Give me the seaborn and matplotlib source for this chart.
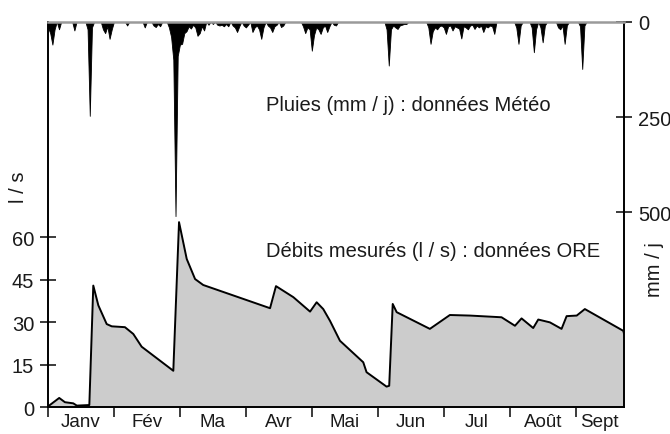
import numpy as np
import pandas as pd
import matplotlib
matplotlib.use("Agg")
import matplotlib.pyplot as plt
import seaborn as sns

# Month labels (30-day slots on the time axis)
mois = ["Janv", "Fév", "Ma", "Avr", "Mai", "Jun", "Jul", "Août", "Sept"]
debut_mois = [0, 30, 60, 90, 120, 150, 180, 210, 240]
fin_periode = 262

# Measured discharge (l/s)
debit_jour = [0, 5.1, 7.7, 11.5, 13.1, 18.8, 20.6, 22.9, 26.7, 29.0, 35.0, 38.8,
              42.6, 57.0, 59.6, 63.1, 66.9, 70.6, 101.0, 103.7, 111.6, 119.2,
              122.2, 125.2, 128.3, 132.8, 143.4, 144.9, 154.0, 155.2, 156.8,
              158.6, 173.7, 182.8, 191.9, 206.3, 212.4, 215.4, 220.7, 223.0,
              228.3, 233.6, 235.9, 240.5, 244.2, 261.7, 262.0]
debit_ls = [0.3, 3.3, 1.8, 1.4, 0.6, 0.8, 43.0, 36.0, 29.4, 28.6, 28.3, 25.9,
            21.4, 12.9, 65.4, 52.4, 45.3, 43.2, 35.0, 42.8, 38.9, 33.8,
            37.1, 34.7, 30.5, 23.5, 15.9, 12.4, 7.3, 7.6, 36.5,
            33.6, 27.7, 32.6, 32.4, 31.8, 28.8, 31.4, 28.0, 31.0,
            30.0, 27.7, 32.2, 32.4, 34.7, 27.0, 26.0]

# Daily rainfall (mm/j), rainy days only
pluie_jour = [0, 1, 2, 3, 5, 12, 18, 19, 20, 25, 26, 27, 28, 29, 36, 44, 48, 49,
              50, 51, 55, 56, 57, 58, 59, 60, 61, 62, 63, 64, 65, 66, 67, 68,
              69, 70, 71, 73, 75, 77, 78, 79, 80, 81, 82, 84, 85, 86, 87, 89,
              90, 91, 93, 94, 95, 96, 97, 98, 100, 101, 102, 103, 104, 106, 107,
              116, 117, 118, 119, 120, 121, 122, 123, 124, 125, 126, 127, 128,
              130, 131, 154, 155, 156, 157, 158, 159, 160, 161, 162, 163,
              173, 174, 175, 176, 177, 178, 179, 180, 181, 182, 183, 184, 185,
              186, 187, 188, 189, 190, 191, 192, 193, 194, 195, 196, 197, 198,
              199, 200, 201, 202, 203, 213, 214, 215, 220, 221, 222, 224, 225,
              226, 232, 233, 234, 235, 236, 242, 243, 244]
pluie_mm = [15, 30, 60, 20, 20, 23, 20, 247, 15, 20, 30, 12, 45, 20, 10, 15, 10,
            14, 6, 12, 15, 40, 100, 510, 90, 60, 58, 30, 25, 12, 18, 8, 15, 37,
            30, 12, 23, 8, 6, 8, 10, 8, 12, 6, 12, 10, 15, 27, 12, 10,
            15, 8, 27, 15, 10, 20, 45, 15, 10, 15, 27, 12, 8, 14, 10,
            12, 30, 15, 20, 76, 35, 15, 20, 32, 15, 10, 27, 12,
            8, 10, 20, 115, 20, 10, 15, 19, 10, 8, 6, 6,
            15, 58, 25, 15, 20, 12, 10, 15, 32, 12, 10, 23, 12,
            15, 18, 44, 12, 15, 20, 10, 8, 19, 10, 15, 10, 27,
            12, 15, 10, 12, 32, 15, 58, 10, 15, 80, 20, 15, 54,
            10, 15, 20, 10, 58, 10, 12, 124, 10]

df_debit = pd.DataFrame({"jour": debit_jour, "debit": debit_ls})
jours = np.arange(0, fin_periode + 1)
pluie = pd.Series(0.0, index=jours)
pluie.loc[pluie_jour] = pluie_mm
df_pluie = pd.DataFrame({"jour": jours, "pluie": pluie.values})

sns.set_theme(style="white")
plt.rcParams["font.family"] = ["Liberation Sans", "DejaVu Sans"]
plt.rcParams["text.color"] = "#1a1a1a"
plt.rcParams["xtick.color"] = "#1a1a1a"
plt.rcParams["ytick.color"] = "#1a1a1a"

fig = plt.figure(figsize=(6.7, 4.35), dpi=100)
ax = fig.add_axes([48 / 670, 1 - 408.3 / 435, 576 / 670, 385.6 / 435])
ax2 = ax.twinx()

# Discharge: grey area with black outline
ax.fill_between(df_debit["jour"], df_debit["debit"], 0, color="#cccccc", lw=0)
sns.lineplot(data=df_debit, x="jour", y="debit", ax=ax, color="black", lw=1.4)
ax.set_xlim(0, fin_periode)
ax.set_ylim(0, 136.2)

# Rainfall hanging from the top, inverted scale
ax2.fill_between(df_pluie["jour"], df_pluie["pluie"], 0, color="black", lw=0.6,
                 edgecolor="black")
ax2.set_ylim(1011.5, 0)

ax.set_xlabel("")
ax.set_ylabel("")
ax2.set_ylabel("")

# Axis ticks
ax.set_yticks([0, 15, 30, 45, 60])
ax.set_yticklabels(["0", "15", "30", "45", "60"])
ax.tick_params(axis="y", which="major", direction="inout", length=12, width=1.2,
               pad=4, labelsize=14.5, left=True)
ax.set_xticks(debut_mois)
ax.set_xticklabels([])
ax.set_xticks([d + 15 for d in debut_mois[:-1]] + [(240 + fin_periode) / 2],
              minor=True)
ax.set_xticklabels(mois, minor=True)
ax.tick_params(axis="x", which="major", direction="out", length=7.5, width=1.2,
               bottom=True)
ax.tick_params(axis="x", which="minor", length=0, pad=4, labelsize=13.5)

ax2.set_yticks([0, 250, 500])
ax2.set_yticklabels(["0", "250", "500"])
ax2.tick_params(axis="y", direction="inout", length=12, width=1.2, pad=4,
                labelsize=14.5, right=True)

for s in ["left", "bottom"]:
    ax.spines[s].set_color("black")
    ax.spines[s].set_linewidth(1.4)
ax.spines["right"].set_visible(False)
ax.spines["top"].set_visible(False)
for s in ["left", "bottom"]:
    ax2.spines[s].set_visible(False)
ax2.spines["right"].set_color("black")
ax2.spines["right"].set_linewidth(1.4)
ax2.spines["top"].set_color("#9a9a9a")
ax2.spines["top"].set_linewidth(1.8)

# Series captions
ax2.text(99, 218, "Pluies (mm / j) : données Météo", ha="left", va="center",
         fontsize=14.5)
ax.text(99, 55.3, "Débits mesurés (l / s) : données ORE", ha="left",
        va="center", fontsize=14.5)

# Axis titles
fig.text(18 / 670, 1 - 187 / 435, "l / s", rotation=90, ha="center",
         va="center", fontsize=14.5)
fig.text(655 / 670, 1 - 270 / 435, "mm / j", rotation=90, ha="center",
         va="center", fontsize=14.5)

fig.savefig("out.png", dpi=100)
